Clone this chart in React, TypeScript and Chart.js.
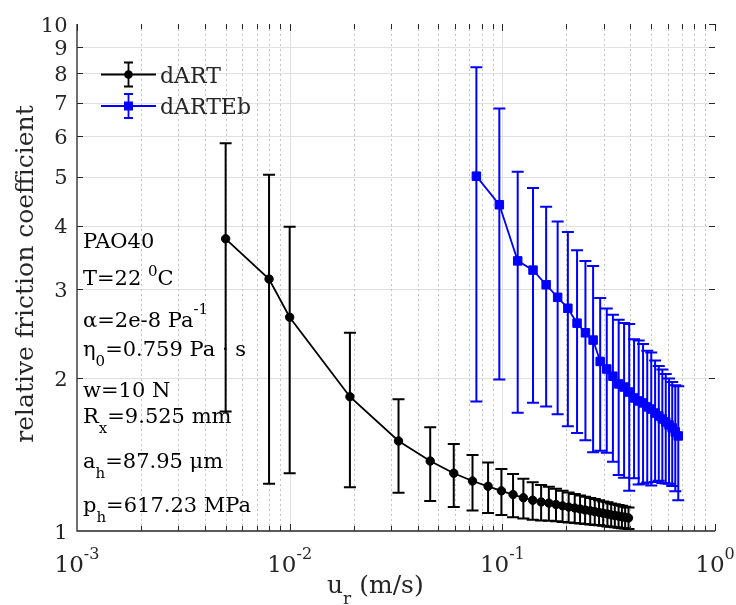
import React, { useEffect, useRef } from "react";
import { Chart, registerables } from "chart.js";

Chart.register(...registerables);

// ---------------- data ----------------
const dartX = [0.005, 0.008, 0.01, 0.0192, 0.0325, 0.0458, 0.0591, 0.0724, 0.0857, 0.099, 0.1123, 0.1256, 0.1389, 0.1522, 0.1655, 0.1788, 0.192, 0.205, 0.219, 0.232, 0.245, 0.259, 0.272, 0.285, 0.298, 0.312, 0.325, 0.338, 0.352, 0.365, 0.378, 0.392];
const dartY = [3.77, 3.14, 2.64, 1.84, 1.505, 1.374, 1.3, 1.255, 1.225, 1.2, 1.18, 1.163, 1.15, 1.141, 1.135, 1.128, 1.121, 1.115, 1.11, 1.105, 1.1, 1.096, 1.092, 1.088, 1.084, 1.08, 1.076, 1.073, 1.07, 1.067, 1.064, 1.061];
const dartErr = [2.05, 1.9, 1.34, 0.62, 0.315, 0.228, 0.185, 0.158, 0.14, 0.125, 0.115, 0.105, 0.098, 0.092, 0.087, 0.083, 0.079, 0.076, 0.073, 0.07, 0.068, 0.066, 0.064, 0.062, 0.06, 0.059, 0.057, 0.056, 0.055, 0.054, 0.053, 0.052];

const ebX = [0.0755, 0.0968, 0.1181, 0.1394, 0.1607, 0.182, 0.2033, 0.2246, 0.2459, 0.2672, 0.2885, 0.3098, 0.3311, 0.3524, 0.3737, 0.395, 0.4163, 0.4376, 0.4589, 0.4802, 0.5015, 0.5228, 0.5441, 0.5654, 0.5867, 0.608, 0.6293, 0.6506, 0.6719];
const ebY = [5.01, 4.4, 3.41, 3.27, 3.06, 2.89, 2.75, 2.57, 2.46, 2.38, 2.16, 2.087, 2.02, 1.95, 1.923, 1.88, 1.83, 1.805, 1.789, 1.757, 1.74, 1.709, 1.686, 1.663, 1.641, 1.619, 1.597, 1.568, 1.54];
const ebErr = [3.21, 2.41, 1.7, 1.48, 1.3, 1.19, 1.14, 1.01, 0.95, 0.95, 0.72, 0.66, 0.65, 0.66, 0.65, 0.68, 0.56, 0.57, 0.55, 0.51, 0.51, 0.46, 0.43, 0.42, 0.4, 0.38, 0.37, 0.37, 0.39];

const seriesNames = ["dART", "dARTEb"];

const xMajorTicks = [0.001, 0.01, 0.1, 1];
const xMajorExp = ["-3", "-2", "-1", "0"];
const xMinorTicks = [
  0.002, 0.003, 0.004, 0.005, 0.006, 0.007, 0.008, 0.009,
  0.02, 0.03, 0.04, 0.05, 0.06, 0.07, 0.08, 0.09,
  0.2, 0.3, 0.4, 0.5, 0.6, 0.7, 0.8, 0.9,
];
const yTicks = [1, 2, 3, 4, 5, 6, 7, 8, 9, 10];

const xLabelMain = "u";
const xLabelSub = "r";
const xLabelRest = " (m/s)";
const yLabel = "relative friction coefficient";

const infoLines: [string, string][][] = [
  [["PAO40", ""]],
  [["T=22 ", ""], ["0", "sup"], ["C", ""]],
  [["α=2e-8 Pa", ""], ["-1", "sup"]],
  [["η", ""], ["0", "sub"], ["=0.759 Pa · s", ""]],
  [["w=10 N", ""]],
  [["R", ""], ["x", "sub"], ["=9.525 mm", ""]],
  [["a", ""], ["h", "sub"], ["=87.95 μm", ""]],
  [["p", ""], ["h", "sub"], ["=617.23 MPa", ""]],
];

// ---------------- styling ----------------
const SERIF = '"DejaVu Serif", serif';
const AXIS_COLOR = "#262626";
const BLUE = "#0000ff";
const BLACK = "#000000";

function drawRich(ctx: CanvasRenderingContext2D, x: number, y: number, parts: [string, string][], size: number, supRaise: number, subDrop: number) {
  let cx = x;
  for (const [t, m] of parts) {
    const fs = m ? Math.round(size * 0.72) : size;
    ctx.font = `${fs}px ${SERIF}`;
    const dy = m === "sup" ? -supRaise : m === "sub" ? subDrop : 0;
    ctx.fillText(t, cx, y + dy);
    cx += ctx.measureText(t).width;
  }
  return cx;
}

const decorPlugin = {
  id: "decor",
  beforeDatasetsDraw(chart: any) {
    const { ctx, chartArea: a, scales } = chart;
    const xs = scales.x;
    const ys = scales.y;
    ctx.save();
    ctx.lineWidth = 1;
    ctx.strokeStyle = "#e0e0e0";
    for (const v of yTicks) {
      if (v <= 1 || v >= 10) continue;
      const py = Math.round(ys.getPixelForValue(v)) + 0.5;
      ctx.beginPath();
      ctx.moveTo(a.left, py);
      ctx.lineTo(a.right, py);
      ctx.stroke();
    }
    for (const v of xMajorTicks) {
      if (v <= 0.001 || v >= 1) continue;
      const px = Math.round(xs.getPixelForValue(v)) + 0.5;
      ctx.beginPath();
      ctx.moveTo(px, a.top);
      ctx.lineTo(px, a.bottom);
      ctx.stroke();
    }
    ctx.strokeStyle = "#c4c4c4";
    ctx.setLineDash([2, 3]);
    for (const v of xMinorTicks) {
      const px = Math.round(xs.getPixelForValue(v)) + 0.5;
      ctx.beginPath();
      ctx.moveTo(px, a.top);
      ctx.lineTo(px, a.bottom);
      ctx.stroke();
    }
    ctx.setLineDash([]);

    const drawBars = (X: number[], Y: number[], E: number[], color: string) => {
      ctx.strokeStyle = color;
      ctx.lineWidth = 2;
      const cap = 6;
      for (let i = 0; i < X.length; i++) {
        const px = xs.getPixelForValue(X[i]);
        const pt = ys.getPixelForValue(Y[i] + E[i]);
        const pb = ys.getPixelForValue(Y[i] - E[i]);
        ctx.beginPath();
        ctx.moveTo(px, pt);
        ctx.lineTo(px, pb);
        ctx.moveTo(px - cap, pt);
        ctx.lineTo(px + cap, pt);
        ctx.moveTo(px - cap, pb);
        ctx.lineTo(px + cap, pb);
        ctx.stroke();
      }
    };
    drawBars(dartX, dartY, dartErr, BLACK);
    drawBars(ebX, ebY, ebErr, BLUE);
    ctx.restore();
  },
  afterDraw(chart: any) {
    const { ctx, chartArea: a, scales } = chart;
    const xs = scales.x;
    const ys = scales.y;
    ctx.save();
    ctx.strokeStyle = AXIS_COLOR;
    ctx.lineWidth = 1.3;
    ctx.beginPath();
    ctx.moveTo(a.left, a.top);
    ctx.lineTo(a.left, a.bottom);
    ctx.lineTo(a.right, a.bottom);
    ctx.stroke();

    ctx.lineWidth = 1;
    const tl = 6;
    for (const v of yTicks) {
      const py = Math.round(ys.getPixelForValue(v)) + 0.5;
      if (v > 1 && v < 10) {
        ctx.beginPath();
        ctx.moveTo(a.left, py);
        ctx.lineTo(a.left + tl, py);
        ctx.stroke();
      }
      if (v > 1) {
        ctx.beginPath();
        ctx.moveTo(a.right, py);
        ctx.lineTo(a.right - tl, py);
        ctx.stroke();
      }
    }
    for (const v of [...xMajorTicks, ...xMinorTicks]) {
      const px = Math.round(xs.getPixelForValue(v)) + 0.5;
      const major = xMajorTicks.includes(v);
      const len = major ? 7 : 5;
      if (v > 0.001) {
        ctx.beginPath();
        ctx.moveTo(px, a.bottom);
        ctx.lineTo(px, a.bottom - len);
        ctx.stroke();
      }
      ctx.beginPath();
      ctx.moveTo(px, a.top);
      ctx.lineTo(px, a.top + len);
      ctx.stroke();
    }

    ctx.fillStyle = AXIS_COLOR;
    ctx.textAlign = "right";
    ctx.textBaseline = "alphabetic";
    const ty = 21;
    ctx.font = `${ty}px ${SERIF}`;
    for (const v of yTicks) {
      const py = ys.getPixelForValue(v);
      ctx.fillText(String(v), a.left - 9.5, py + ty * 0.36);
    }

    ctx.textAlign = "left";
    const tx = 23;
    const ts = 16;
    xMajorTicks.forEach((v, i) => {
      const px = xs.getPixelForValue(v);
      ctx.font = `${tx}px ${SERIF}`;
      const w1 = ctx.measureText("10").width;
      ctx.font = `${ts}px ${SERIF}`;
      const w2 = ctx.measureText(xMajorExp[i]).width;
      const start = px - (w1 + w2) / 2;
      ctx.font = `${tx}px ${SERIF}`;
      ctx.fillText("10", start, 572);
      ctx.font = `${ts}px ${SERIF}`;
      ctx.fillText(xMajorExp[i], start + w1, 559);
    });

    const lx = 25;
    ctx.font = `${lx}px ${SERIF}`;
    let cx = 327;
    ctx.fillText(xLabelMain, cx, 593);
    cx += ctx.measureText(xLabelMain).width;
    ctx.font = `${17}px ${SERIF}`;
    ctx.fillText(xLabelSub, cx, 604);
    cx += ctx.measureText(xLabelSub).width;
    ctx.font = `${lx}px ${SERIF}`;
    ctx.fillText(xLabelRest, cx, 593);

    ctx.save();
    ctx.translate(33, 274);
    ctx.rotate(-Math.PI / 2);
    ctx.textAlign = "center";
    ctx.font = `${25}px ${SERIF}`;
    ctx.fillText(yLabel, 0, 0);
    ctx.restore();

    const legendRows = [
      { y: 74.5, color: BLACK, marker: "circle" },
      { y: 106, color: BLUE, marker: "rect" },
    ];
    legendRows.forEach((r, i) => {
      ctx.strokeStyle = r.color;
      ctx.fillStyle = r.color;
      ctx.lineWidth = 2.2;
      ctx.beginPath();
      ctx.moveTo(101, r.y);
      ctx.lineTo(156, r.y);
      ctx.stroke();
      ctx.lineWidth = 1.8;
      ctx.beginPath();
      ctx.moveTo(128.5, r.y - 12);
      ctx.lineTo(128.5, r.y + 12);
      ctx.moveTo(124, r.y - 12);
      ctx.lineTo(133, r.y - 12);
      ctx.moveTo(124, r.y + 12);
      ctx.lineTo(133, r.y + 12);
      ctx.stroke();
      ctx.beginPath();
      if (r.marker === "circle") {
        ctx.arc(128.5, r.y, 4.3, 0, Math.PI * 2);
        ctx.fill();
      } else {
        ctx.fillRect(124, r.y - 4.5, 9, 9);
      }
      ctx.fillStyle = AXIS_COLOR;
      ctx.font = `22px ${SERIF}`;
      ctx.textAlign = "left";
      ctx.fillText(seriesNames[i], 160, r.y + 8);
    });

    ctx.fillStyle = BLACK;
    ctx.textAlign = "left";
    const baselines = [248, 285, 327, 356, 397, 423, 468, 512];
    const supR = [9, 9, 13, 9, 9, 9, 9, 9];
    infoLines.forEach((parts, i) => {
      drawRich(ctx, 83, baselines[i], parts, 21, supR[i], 10);
    });
    ctx.restore();
  },
};

export default function App() {
  const ref = useRef<HTMLCanvasElement | null>(null);
  useEffect(() => {
    if (!ref.current) return;
    const chart = new Chart(ref.current, {
      type: "line",
      data: {
        datasets: [
          {
            label: seriesNames[0],
            data: dartX.map((x, i) => ({ x, y: dartY[i] })),
            borderColor: BLACK,
            backgroundColor: BLACK,
            borderWidth: 1.8,
            pointStyle: "circle",
            pointRadius: 4.2,
            pointBorderWidth: 1,
            tension: 0,
          },
          {
            label: seriesNames[1],
            data: ebX.map((x, i) => ({ x, y: ebY[i] })),
            borderColor: BLUE,
            backgroundColor: BLUE,
            borderWidth: 1.8,
            pointStyle: "rect",
            pointRadius: 6,
            pointBorderWidth: 1,
            tension: 0,
          },
        ],
      },
      options: {
        animation: false,
        responsive: false,
        devicePixelRatio: 1,
        layout: { padding: { left: 77, right: 21, top: 24, bottom: 74 } },
        plugins: { legend: { display: false }, tooltip: { enabled: false } },
        scales: {
          x: { type: "logarithmic", min: 0.001, max: 1, display: false },
          y: { type: "logarithmic", min: 1, max: 10, display: false },
        },
      },
      plugins: [decorPlugin],
    } as any);
    return () => chart.destroy();
  }, []);
  return (
    <div style={{ position: "absolute", left: 0, top: 0, width: 736, height: 605, background: "#ffffff" }}>
      <canvas ref={ref} width={736} height={605} style={{ display: "block" }} />
    </div>
  );
}
